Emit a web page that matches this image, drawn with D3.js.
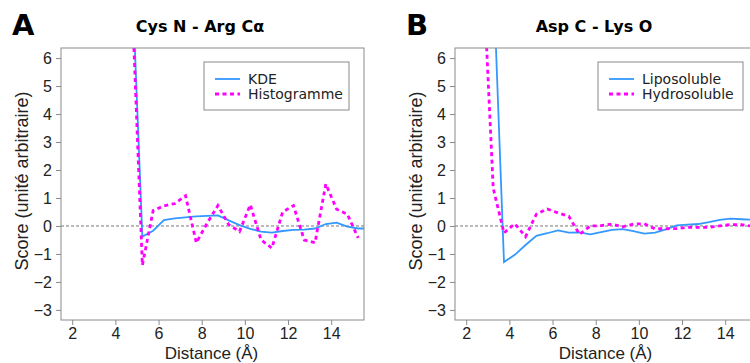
<!DOCTYPE html>
<html>
<head>
<meta charset="utf-8">
<script src="https://cdn.jsdelivr.net/npm/d3@7"></script>
<style>
  body { margin: 0; background: #fff; }
  svg { display: block; }
</style>
</head>
<body>
<div id="chart"></div>
<script>
// Panel A : Cys N - Arg Ca
const kdeX = [4.75, 5.25, 5.75, 6.25, 6.75, 7.25, 7.75, 8.25, 8.75, 9.25, 9.75, 10.25, 10.75, 11.25, 11.75, 12.25, 12.75, 13.25, 13.75, 14.25, 14.75, 15.25, 15.75];
const kdeY = [9.3, -0.38, -0.17, 0.21, 0.27, 0.31, 0.34, 0.36, 0.38, 0.2, 0.03, -0.1, -0.2, -0.24, -0.18, -0.14, -0.13, -0.09, 0.07, 0.12, -0.02, -0.09, -0.09];
const histX = [4.75, 5.25, 5.75, 6.25, 6.75, 7.25, 7.75, 8.25, 8.75, 9.25, 9.75, 10.25, 10.75, 11.25, 11.75, 12.25, 12.75, 13.25, 13.75, 14.25, 14.75, 15.25];
const histY = [8.5, -1.4, 0.55, 0.72, 0.8, 1.08, -0.6, 0.1, 0.73, 0.05, -0.2, 0.76, -0.5, -0.79, 0.5, 0.73, -0.5, -0.6, 1.5, 0.6, 0.42, -0.43];

// Panel B : Asp C - Lys O
const lipoX = [3.25, 3.75, 4.25, 4.75, 5.25, 5.75, 6.25, 6.75, 7.25, 7.75, 8.25, 8.75, 9.25, 9.75, 10.25, 10.75, 11.25, 11.75, 12.25, 12.75, 13.25, 13.75, 14.25, 14.75, 15.25];
const lipoY = [9.0, -1.29, -1.03, -0.68, -0.35, -0.26, -0.16, -0.24, -0.23, -0.3, -0.22, -0.14, -0.11, -0.18, -0.27, -0.24, -0.12, 0.02, 0.05, 0.07, 0.14, 0.22, 0.26, 0.24, 0.22];
const hydroX = [2.75, 3.25, 3.75, 4.25, 4.75, 5.25, 5.75, 6.25, 6.75, 7.25, 7.75, 8.25, 8.75, 9.25, 9.75, 10.25, 10.75, 11.25, 11.75, 12.25, 12.75, 13.25, 13.75, 14.25, 14.75, 15.25];
const hydroY = [9.6, 1.35, -0.25, 0.08, -0.38, 0.42, 0.61, 0.47, 0.35, -0.3, 0.0, 0.01, 0.07, -0.03, 0.07, 0.08, -0.1, -0.1, -0.09, -0.05, -0.05, -0.05, 0.0, 0.05, 0.05, -0.01];

const xTicks = [2, 4, 6, 8, 10, 12, 14];
const yTicks = [-3, -2, -1, 0, 1, 2, 3, 4, 5, 6];

const panels = [
  {letter: 'A', title: 'Cys N - Arg Cα', left: 61, titleX: 200, letterX: 12,
   series: [{x: kdeX, y: kdeY, name: 'KDE'}, {x: histX, y: histY, name: 'Histogramme'}]},
  {letter: 'B', title: 'Asp C - Lys O', left: 455, titleX: 594, letterX: 406,
   series: [{x: lipoX, y: lipoY, name: 'Liposoluble'}, {x: hydroX, y: hydroY, name: 'Hydrosoluble'}]}
];

const width = 750, height = 363;
const plotW = 303, plotTop = 48, plotBottom = 320;
const blue = '#3399ff', magenta = '#ff00ff', grey = '#8a8a8a';

const svg = d3.select('#chart').append('svg')
  .attr('width', width)
  .attr('height', height);

panels.forEach((p, i) => {
  const x = d3.scaleLinear().domain([1.48, 15.52]).range([p.left, p.left + plotW]);
  const y = d3.scaleLinear().domain([-3.36, 6.36]).range([plotBottom, plotTop]);
  const g = svg.append('g');

  g.append('clipPath').attr('id', 'clip' + i)
    .append('rect')
    .attr('x', p.left).attr('y', plotTop)
    .attr('width', plotW).attr('height', plotBottom - plotTop);

  // zero line
  g.append('line')
    .attr('x1', p.left).attr('x2', p.left + plotW)
    .attr('y1', y(0)).attr('y2', y(0))
    .attr('stroke', '#777')
    .attr('stroke-dasharray', '3,2')
    .attr('stroke-width', 1);

  const line = d3.line().x(d => x(d[0])).y(d => y(d[1]));
  const styles = [
    {stroke: blue, width: 1.8, dash: null},
    {stroke: magenta, width: 2.8, dash: '4,3.5'}
  ];
  p.series.forEach((s, k) => {
    g.append('path')
      .datum(s.x.map((v, j) => [v, s.y[j]]))
      .attr('clip-path', `url(#clip${i})`)
      .attr('fill', 'none')
      .attr('stroke', styles[k].stroke)
      .attr('stroke-width', styles[k].width)
      .attr('stroke-dasharray', styles[k].dash)
      .attr('d', line);
  });

  // box
  g.append('rect')
    .attr('x', p.left).attr('y', plotTop)
    .attr('width', plotW).attr('height', plotBottom - plotTop)
    .attr('fill', 'none')
    .attr('stroke', grey);

  const xAxis = g.append('g')
    .attr('transform', `translate(0,${plotBottom})`)
    .call(d3.axisBottom(x).tickValues(xTicks).tickSize(5).tickPadding(3));
  const yAxis = g.append('g')
    .attr('transform', `translate(${p.left},0)`)
    .call(d3.axisLeft(y).tickValues(yTicks).tickSize(5).tickPadding(4));
  [xAxis, yAxis].forEach(a => {
    a.select('.domain').remove();
    a.selectAll('line').attr('stroke', grey);
    a.selectAll('text')
      .attr('fill', '#222')
      .style('font-family', '"Liberation Sans", Arial, sans-serif')
      .style('font-size', '16px');
  });

  // axis titles
  g.append('text')
    .attr('x', p.left + plotW / 2 - 1).attr('y', 359)
    .attr('text-anchor', 'middle')
    .attr('fill', '#222')
    .style('font-family', '"Liberation Sans", Arial, sans-serif')
    .style('font-size', '17px')
    .text('Distance (Å)');
  g.append('text')
    .attr('transform', `translate(${p.left - 33},${(plotTop + plotBottom) / 2 - 3}) rotate(-90)`)
    .attr('text-anchor', 'middle')
    .attr('fill', '#222')
    .style('font-family', '"Liberation Sans", Arial, sans-serif')
    .style('font-size', '18px')
    .text('Score (unité arbitraire)');

  // title and panel letter
  g.append('text')
    .attr('x', p.titleX).attr('y', 32)
    .attr('text-anchor', 'middle')
    .style('font-family', '"DejaVu Sans", sans-serif')
    .style('font-weight', 'bold')
    .style('font-size', '16px')
    .text(p.title);
  g.append('text')
    .attr('x', p.letterX).attr('y', 35)
    .style('font-family', '"DejaVu Sans", sans-serif')
    .style('font-weight', 'bold')
    .style('font-size', '29px')
    .text(p.letter);

  // legend
  const lx = p.left + 143, ly = 62;
  const leg = g.append('g');
  leg.append('rect')
    .attr('x', lx).attr('y', ly)
    .attr('width', 145).attr('height', 48)
    .attr('fill', '#fff')
    .attr('stroke', grey);
  p.series.forEach((s, k) => {
    const yy = ly + 17 + k * 15;
    leg.append('line')
      .attr('x1', lx + 11).attr('x2', lx + 36)
      .attr('y1', yy).attr('y2', yy)
      .attr('stroke', styles[k].stroke)
      .attr('stroke-width', styles[k].width)
      .attr('stroke-dasharray', styles[k].dash);
    leg.append('text')
      .attr('x', lx + 44).attr('y', yy + 5)
      .attr('fill', '#222')
      .style('font-family', '"DejaVu Sans", sans-serif')
      .style('font-size', '14px')
      .text(s.name);
  });
});
</script>
</body>
</html>
